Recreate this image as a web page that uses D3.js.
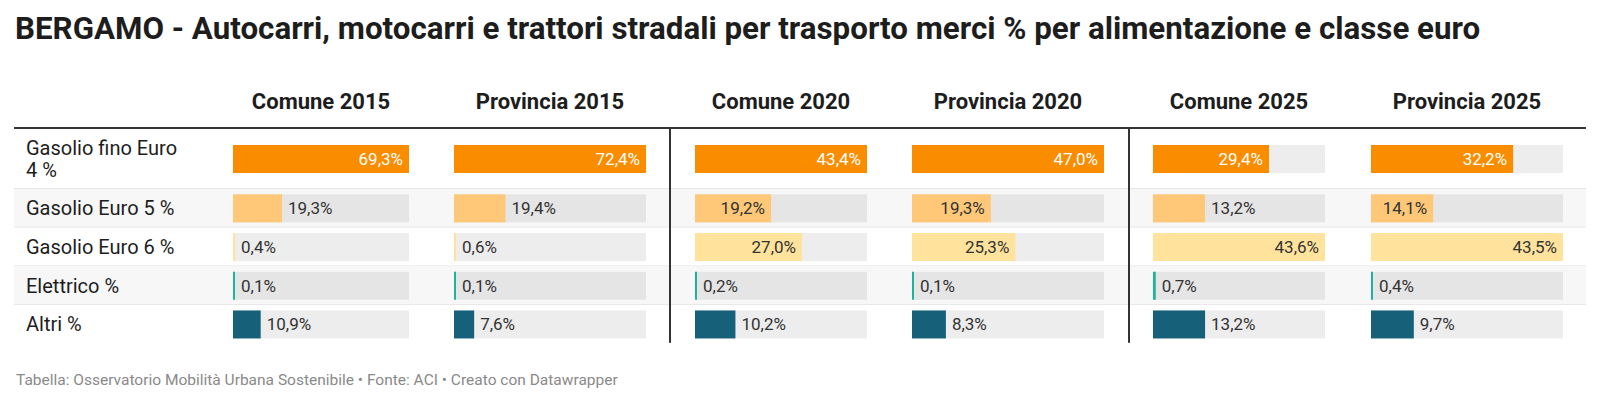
<!DOCTYPE html>
<html>
<head>
<meta charset="utf-8">
<script src="https://cdn.jsdelivr.net/npm/d3@7"></script>
<style>
  body { margin: 0; background: #fff; font-family: Roboto, "Noto Sans", sans-serif; }
  svg text { font-family: Roboto, "Noto Sans", sans-serif; }
</style>
</head>
<body>
<svg id="chart" width="1600" height="404"></svg>
<script>
/**
 * Autocarri Bergamo - table with bars
 */

var categories = ['Gasolio fino Euro 4 %', 'Gasolio Euro 5 %', 'Gasolio Euro 6 %', 'Elettrico %', 'Altri %'];
var columns = ['Comune 2015', 'Provincia 2015', 'Comune 2020', 'Provincia 2020', 'Comune 2025', 'Provincia 2025'];

var comune2015 = [69.3, 19.3, 0.4, 0.1, 10.9];
var provincia2015 = [72.4, 19.4, 0.6, 0.1, 7.6];
var comune2020 = [43.4, 19.2, 27.0, 0.2, 10.2];
var provincia2020 = [47.0, 19.3, 25.3, 0.1, 8.3];
var comune2025 = [29.4, 13.2, 43.6, 0.7, 13.2];
var provincia2025 = [32.2, 14.1, 43.5, 0.4, 9.7];

var title = 'BERGAMO - Autocarri, motocarri e trattori stradali per trasporto merci % per alimentazione e classe euro';
var footer = 'Tabella: Osservatorio Mobilità Urbana Sostenibile • Fonte: ACI • Creato con Datawrapper';

var seriesValues = [comune2015, provincia2015, comune2020, provincia2020, comune2025, provincia2025];

// layout
var barColors = ['#fa8c00', '#fec878', '#ffe29b', '#1db49a', '#176079'];
var labelInk = ['#fff', '#333', '#333', '#333', '#fff'];
var colX = [233, 454, 695, 912, 1153, 1371];
var colW = [176, 192, 172, 192, 172, 192];
var dividers = [670, 1129];
var tableLeft = 14, tableRight = 1586;
var headTop = 129;

var svg = d3.select('#chart');
var fmt = d3.format('.1f');
function pct(v) { return fmt(v).replace('.', ',') + '%'; }

svg.append('text')
    .attr('x', 15)
    .attr('y', 39)
    .attr('font-size', 31.3)
    .attr('font-weight', 700)
    .attr('fill', '#1d1d1d')
    .text(title);

// wrap row labels
var tmp = svg.append('text').attr('font-size', 20);
var rows = categories.map(function(c) {
  var words = c.split(' '), lines = [], cur = '';
  words.forEach(function(w) {
    var test = cur ? cur + ' ' + w : w;
    tmp.text(test);
    if (tmp.node().getComputedTextLength() > 166 && cur) { lines.push(cur); cur = w; }
    else cur = test;
  });
  lines.push(cur);
  return lines;
});
tmp.remove();

var rowTop = [], rowH = [], y0 = headTop;
rows.forEach(function(lines, i) {
  rowTop.push(y0);
  rowH.push(lines.length > 1 ? 60 : 38.7);
  y0 += rowH[i];
});
var tableBottom = y0 - 1;

// stripes and separators
var rowG = svg.selectAll('g.row')
    .data(rows)
  .enter().append('g')
    .attr('class', 'row')
    .attr('transform', function(d, i) { return 'translate(0,' + rowTop[i] + ')'; });

rowG.append('rect')
    .attr('x', tableLeft)
    .attr('width', tableRight - tableLeft)
    .attr('height', function(d, i) { return rowH[i]; })
    .attr('fill', function(d, i) { return i % 2 ? '#f7f7f7' : '#fff'; });

rowG.filter(function(d, i) { return i < rows.length - 1; })
  .append('rect')
    .attr('x', tableLeft)
    .attr('y', function(d, i) { return rowH[i] - 1; })
    .attr('width', tableRight - tableLeft)
    .attr('height', 1)
    .attr('fill', '#e6e6e6');

rowG.append('text')
    .attr('x', 26)
    .attr('font-size', 20)
    .attr('fill', '#1d1d1d')
    .each(function(lines, i) {
      var t = d3.select(this);
      var first = rowH[i] / 2 + 7 - (lines.length - 1) * 11;
      lines.forEach(function(l, k) {
        t.append('tspan').attr('x', 26).attr('y', first + k * 22).text(l);
      });
    });

// bars per column
columns.forEach(function(col, ci) {
  var vals = seriesValues[ci];
  var x = d3.scaleLinear()
      .domain([0, d3.max(vals)])
      .range([0, colW[ci]]);

  svg.append('text')
      .attr('x', colX[ci] + colW[ci] / 2)
      .attr('y', 109)
      .attr('text-anchor', 'middle')
      .attr('font-size', 22)
      .attr('font-weight', 700)
      .attr('fill', '#1d1d1d')
      .text(col);

  var cell = svg.selectAll('g.c' + ci)
      .data(vals)
    .enter().append('g')
      .attr('transform', function(d, i) { return 'translate(' + colX[ci] + ',' + (rowTop[i] + rowH[i] / 2 - 14) + ')'; });

  cell.append('rect')
      .attr('width', colW[ci])
      .attr('height', 28)
      .attr('fill', function(d, i) { return i % 2 ? '#e5e5e5' : '#ededed'; });

  cell.append('rect')
      .attr('width', function(d) { return Math.max(2, x(d)); })
      .attr('height', 28)
      .attr('fill', function(d, i) { return barColors[i]; });

  cell.append('text')
      .attr('y', 20)
      .attr('font-size', 17)
      .text(function(d) { return pct(d); })
      .each(function(d, i) {
        var t = d3.select(this);
        var w = this.getComputedTextLength();
        var bw = Math.max(2, x(d));
        if (bw >= w + 14) {
          t.attr('x', bw - 6).attr('text-anchor', 'end').attr('fill', labelInk[i]);
        } else {
          t.attr('x', bw + 6).attr('fill', '#333');
        }
      });
});

// header rule and group dividers
svg.append('rect')
    .attr('x', tableLeft)
    .attr('y', headTop - 2)
    .attr('width', tableRight - tableLeft)
    .attr('height', 2)
    .attr('fill', '#333');

svg.selectAll('rect.div')
    .data(dividers)
  .enter().append('rect')
    .attr('class', 'div')
    .attr('x', function(d) { return d - 1; })
    .attr('y', headTop - 1)
    .attr('width', 2)
    .attr('height', tableBottom - headTop + 1)
    .attr('fill', '#333');

svg.append('text')
    .attr('x', 16)
    .attr('y', 385)
    .attr('font-size', 15.5)
    .attr('fill', '#8a8a8a')
    .text(footer);
</script>
</body>
</html>
